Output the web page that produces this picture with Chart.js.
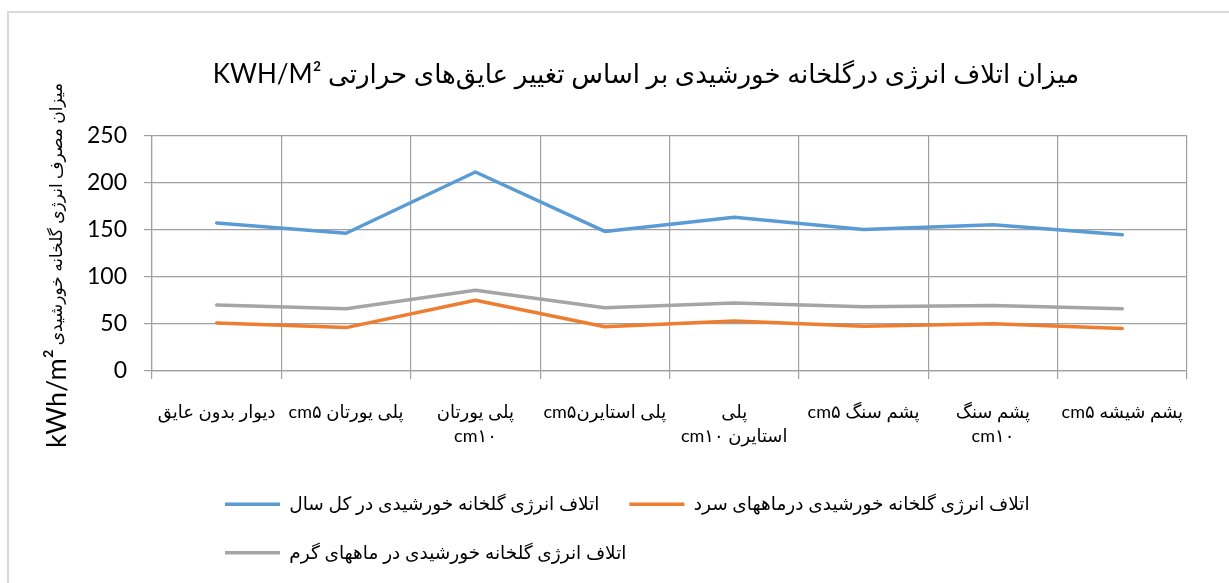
<!DOCTYPE html>
<html>
<head>
<meta charset="utf-8">
<script src="https://cdn.jsdelivr.net/npm/chart.js@4/dist/chart.umd.min.js"></script>
<style>
  html, body { margin: 0; padding: 0; background: #ffffff; }
  #wrap { position: relative; width: 1229px; height: 583px; overflow: hidden; }
  #frame { position: absolute; left: 7px; top: 11px; width: 1400px; height: 800px;
           border-left: 2px solid #dadada; border-top: 2px solid #dadada; }
  #c { position: absolute; left: 0; top: 0; }
</style>
</head>
<body>
<div id="wrap">
  <div id="frame"></div>
  <canvas id="c" width="1229" height="583" dir="rtl"></canvas>
</div>
<script>
// ---- data ----
const categories = [
  "دیوار بدون عایق",
  "پلی یورتان cm۵",
  ["پلی یورتان", "cm۱۰"],
  "پلی استایرنcm۵",
  ["پلی", "استایرن cm۱۰"],
  "پشم سنگ cm۵",
  ["پشم سنگ", "cm۱۰"],
  "پشم شیشه cm۵"
];
const seriesNames = [
  "اتلاف انرژی گلخانه خورشیدی در کل سال",
  "اتلاف انرژی گلخانه خورشیدی درماههای سرد",
  "اتلاف انرژی گلخانه خورشیدی در ماههای گرم"
];
const yearLoss = [157, 146, 211, 148, 163, 150, 155, 144.5];
const coldLoss = [51, 46, 75, 47, 53, 47.5, 50, 45];
const warmLoss = [70, 66, 85.5, 67, 72, 68, 69.5, 66];
const yTickValues = [0, 50, 100, 150, 200, 250];
const chartTitle = "میزان اتلاف انرژی درگلخانه خورشیدی بر اساس تغییر عایق‌های حرارتی KWH/M²";
const yTitleText = "میزان مصرف انرژی گلخانه خورشیدی";
const yTitleUnit = "kWh/m²";

const FONT = "Lato, 'DejaVu Sans', sans-serif";

const yTitlePlugin = {
  id: 'yTitle',
  afterDraw(chart) {
    const ctx = chart.ctx;
    ctx.save();
    ctx.translate(57, 448);
    ctx.rotate(-Math.PI / 2);
    ctx.direction = 'ltr';
    ctx.textAlign = 'left';
    ctx.textBaseline = 'middle';
    ctx.fillStyle = '#000';
    ctx.font = "27px " + FONT;
    ctx.fillText(yTitleUnit, 0, 0);
    const w = ctx.measureText(yTitleUnit).width;
    ctx.font = "17px " + FONT;
    ctx.fillText(yTitleText, w + 4, 0);
    ctx.restore();
  }
};

const layoutShift = {
  id: 'layoutShift',
  afterLayout(chart) {
    const lg = chart.legend;
    if (lg) {
      const pad = lg.options.labels.padding;
      lg.left = 225 - pad;
    }
    const tb = chart.titleBlock;
    if (tb) {
      tb.left = 0;
      tb.right = 1292;
    }
  }
};

new Chart(document.getElementById('c'), {
  type: 'line',
  data: {
    labels: categories,
    datasets: [
      { label: seriesNames[0], data: yearLoss, borderColor: '#5B9BD5', backgroundColor: '#5B9BD5', borderWidth: 3.5 },
      { label: seriesNames[1], data: coldLoss, borderColor: '#ED7D31', backgroundColor: '#ED7D31', borderWidth: 3.5 },
      { label: seriesNames[2], data: warmLoss, borderColor: '#A5A5A5', backgroundColor: '#A5A5A5', borderWidth: 3.5 }
    ]
  },
  options: {
    responsive: false,
    animation: false,
    layout: { padding: { left: 0, right: 42, top: 0, bottom: 11 } },
    elements: {
      line: { tension: 0, fill: false, borderCapStyle: 'round', borderJoinStyle: 'round' },
      point: { radius: 0, hoverRadius: 0 }
    },
    plugins: {
      title: {
        display: true,
        text: chartTitle,
        color: '#000',
        font: { family: FONT, size: 26, weight: 'normal', lineHeight: 1.2 },
        padding: { top: 59, bottom: 45 }
      },
      legend: {
        position: 'bottom',
        align: 'start',
        labels: {
          usePointStyle: true,
          pointStyle: 'line',
          pointStyleWidth: 55,
          padding: 30,
          color: '#000',
          font: { family: FONT, size: 18.5 }
        }
      },
      tooltip: { enabled: false }
    },
    scales: {
      x: {
        type: 'category',
        offset: true,
        grid: { offset: true, color: '#a0a0a0', lineWidth: 1.2, tickLength: 8, drawTicks: true },
        border: { color: '#a0a0a0', width: 1.2 },
        ticks: { color: '#000', padding: 21, maxRotation: 0, autoSkip: false,
                 font: { family: FONT, size: 18, lineHeight: 1.33 } },
        afterFit(scale) { scale.height = 94; }
      },
      y: {
        min: 0, max: 250,
        afterBuildTicks(scale) { scale.ticks = yTickValues.map(v => ({ value: v })); },
        grid: { color: '#a0a0a0', lineWidth: 1.2, tickLength: 8 },
        border: { color: '#a0a0a0', width: 1.2 },
        ticks: { color: '#000', padding: 17, font: { family: FONT, size: 23 } },
        afterFit(scale) { scale.width = 152; }
      }
    }
  },
  plugins: [yTitlePlugin, layoutShift]
});
</script>
</body>
</html>
